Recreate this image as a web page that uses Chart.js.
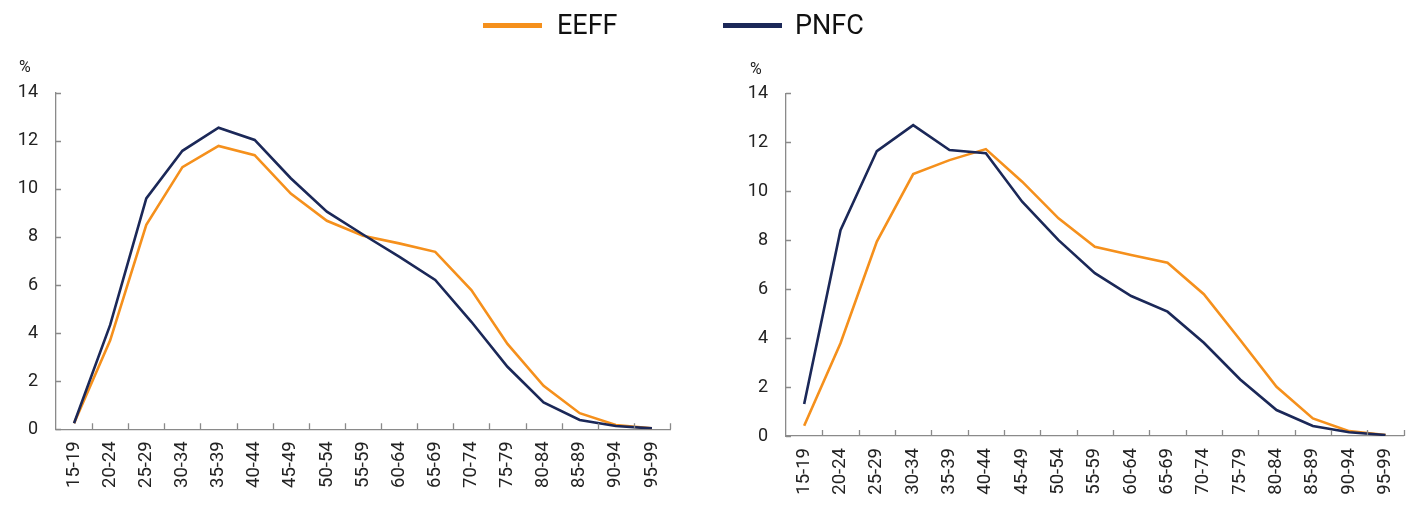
<!DOCTYPE html>
<html>
<head>
<meta charset="utf-8">
<script src="https://cdn.jsdelivr.net/npm/chart.js@4.4.1/dist/chart.umd.min.js"></script>
<style>
  body { margin: 0; background: #fff; font-family: Roboto, sans-serif; }
  #wrap { position: relative; width: 1420px; height: 516px; overflow: hidden; }
  .box { position: absolute; top: 0; width: 710px; height: 516px; }
  .leg-line { position: absolute; height: 5px; width: 59px; top: 23px; }
  .leg-text { position: absolute; font-size: 27px; line-height: 27px; top: 12px; color: #111; }
  .pct { position: absolute; font-size: 16px; line-height: 16px; color: #222; }
</style>
</head>
<body>
<div id="wrap">
  <div class="box" style="left:0"><canvas id="left"></canvas></div>
  <div class="box" style="left:710px"><canvas id="right"></canvas></div>
  <div class="leg-line" style="left:483px;background:#f5901c"></div>
  <div class="leg-text" style="left:557px">EEFF</div>
  <div class="leg-line" style="left:723px;background:#1b2858"></div>
  <div class="leg-text" style="left:795px">PNFC</div>
  <div class="pct" style="left:19px;top:59px">%</div>
  <div class="pct" style="left:750px;top:61px">%</div>
</div>
<script>
// age groups on the x axis
var ageGroups = ["15-19", "20-24", "25-29", "30-34", "35-39", "40-44", "45-49", "50-54",
    "55-59", "60-64", "65-69", "70-74", "75-79", "80-84", "85-89", "90-94", "95-99"];

// left panel
var leftEEFF = [0.25, 3.7, 8.5, 10.9, 11.78, 11.4, 9.8, 8.67, 8.05, 7.73, 7.38, 5.79, 3.55, 1.81, 0.67, 0.18, 0.04];
var leftPNFC = [0.25, 4.34, 9.6, 11.58, 12.54, 12.03, 10.44, 9.05, 8.1, 7.18, 6.21, 4.47, 2.6, 1.12, 0.39, 0.14, 0.04];

// right panel
var rightEEFF = [0.42, 3.79, 7.94, 10.7, 11.27, 11.72, 10.39, 8.89, 7.73, 7.39, 7.08, 5.79, 3.92, 2.01, 0.72, 0.2, 0.04];
var rightPNFC = [1.31, 8.41, 11.64, 12.7, 11.68, 11.55, 9.57, 8.0, 6.65, 5.72, 5.08, 3.81, 2.31, 1.06, 0.41, 0.15, 0.04];

var yTicks = [0, 2, 4, 6, 8, 10, 12, 14];

var orange = "#f5901c";
var navy = "#1b2858";
var axisGrey = "#8a8a8a";

// small inward tick marks, like the original
var innerTicks = {
    id: "innerTicks",
    afterDraw: function(chart) {
        var ctx = chart.ctx;
        var xs = chart.scales.x, ys = chart.scales.y;
        var area = chart.chartArea;
        ctx.save();
        ctx.strokeStyle = axisGrey;
        ctx.lineWidth = 1.3;
        ctx.beginPath();
        var w = (xs.right - xs.left) / ageGroups.length;
        for (var i = 1; i <= ageGroups.length; i++) {
            var xx = Math.round(xs.left + i * w) + 0.5;
            ctx.moveTo(xx, area.bottom);
            ctx.lineTo(xx, area.bottom - 6);
        }
        ys.ticks.forEach(function(t) {
            var yy = Math.round(ys.getPixelForValue(t.value)) + 0.5;
            ctx.moveTo(area.left, yy);
            ctx.lineTo(area.left + 5, yy);
        });
        ctx.stroke();
        ctx.restore();
    }
};

function makeChart(id, eeff, pnfc, yWidth, xHeight, pad) {
    var ctx = document.getElementById(id).getContext("2d");
    return new Chart(ctx, {
        type: "line",
        data: {
            labels: ageGroups,
            datasets: [
                { label: "PNFC", data: pnfc, borderColor: navy, borderWidth: 2.6, pointRadius: 0, tension: 0, fill: false },
                { label: "EEFF", data: eeff, borderColor: orange, borderWidth: 2.6, pointRadius: 0, tension: 0, fill: false }
            ]
        },
        options: {
            responsive: false,
            animation: false,
            devicePixelRatio: 1,
            layout: { padding: pad },
            plugins: { legend: { display: false }, tooltip: { enabled: false } },
            scales: {
                x: {
                    type: "category",
                    offset: true,
                    grid: { display: false, drawTicks: false },
                    border: { display: true, color: axisGrey, width: 1.3 },
                    ticks: {
                        autoSkip: false, minRotation: 90, maxRotation: 90, padding: 12,
                        color: "#222", font: { family: "Roboto", size: 18.5 }
                    },
                    afterFit: function(s) { s.height = xHeight; }
                },
                y: {
                    min: 0, max: 14,
                    afterBuildTicks: function(s) { s.ticks = yTicks.map(function(v) { return { value: v }; }); },
                    grid: { display: false, drawTicks: false },
                    border: { display: true, color: axisGrey, width: 1.3 },
                    ticks: { padding: 18, color: "#222", font: { family: "Roboto", size: 18 } },
                    afterFit: function(s) { s.width = yWidth; }
                }
            }
        },
        plugins: [innerTicks]
    });
}

document.getElementById("left").width = 710;
document.getElementById("left").height = 516;
document.getElementById("right").width = 710;
document.getElementById("right").height = 516;

makeChart("left", leftEEFF, leftPNFC, 56, 86.7, { top: 92.6, right: 40, bottom: 0, left: 0 });
makeChart("right", rightEEFF, rightPNFC, 76, 80, { top: 93.3, right: 9, bottom: 0, left: 0 });
</script>
</body>
</html>
